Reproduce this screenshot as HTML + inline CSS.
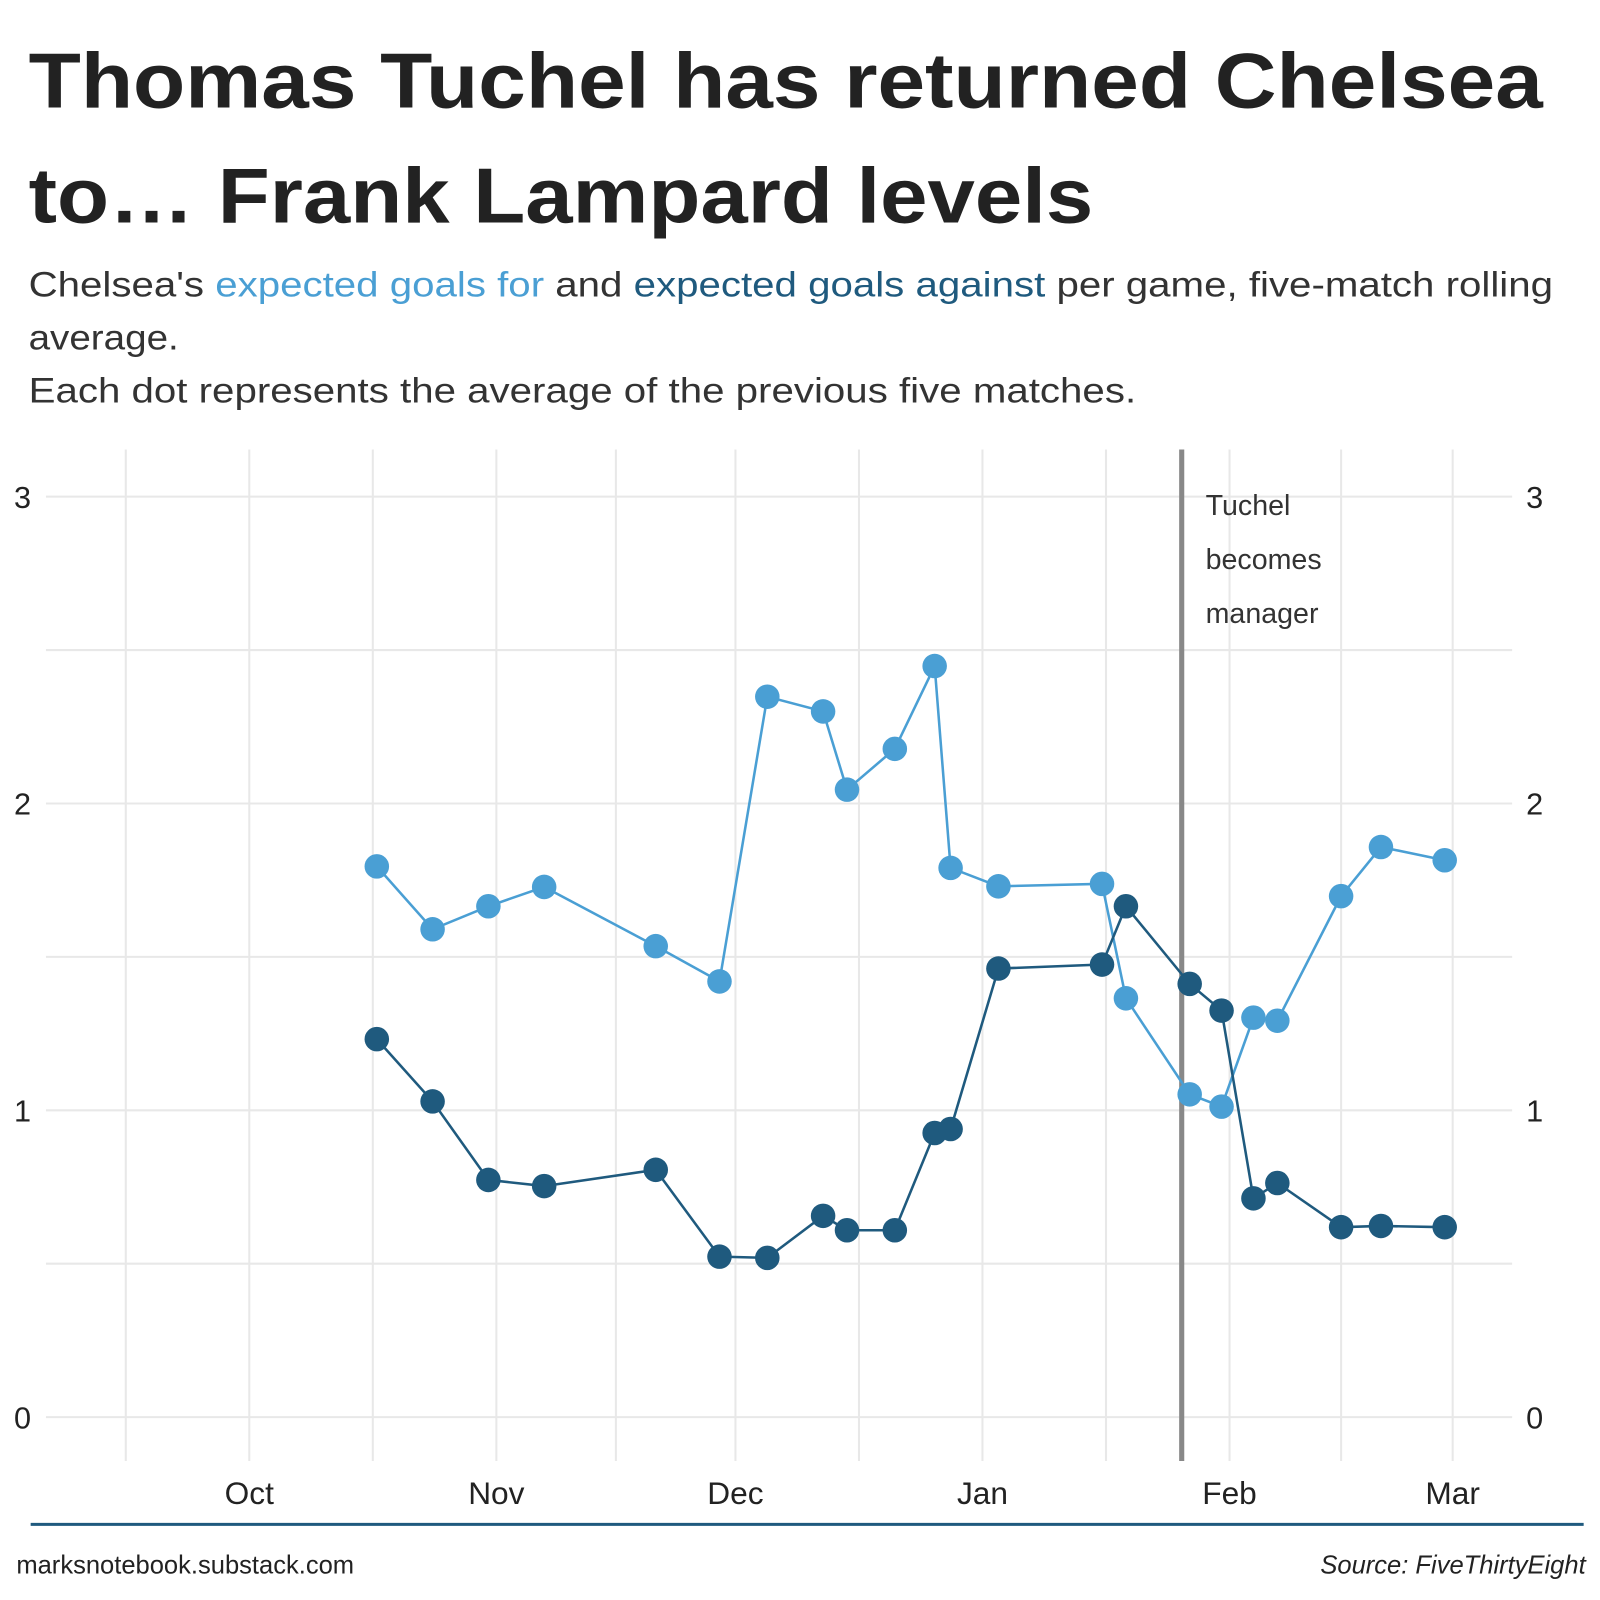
<!DOCTYPE html>
<html><head><meta charset="utf-8"><style>
html,body{margin:0;padding:0;background:#fff}
svg{display:block;font-family:"Liberation Sans",sans-serif}
</style></head><body>
<svg id="chart" width="1600" height="1600" viewBox="0 0 1566 1566" xmlns="http://www.w3.org/2000/svg">
<rect width="1566" height="1566" fill="#fff"/>
<g font-weight="bold" font-size="76" fill="#222">
<text x="28" y="105" textLength="1482" lengthAdjust="spacingAndGlyphs">Thomas Tuchel has returned Chelsea</text>
<text x="28" y="218" textLength="1042" lengthAdjust="spacingAndGlyphs">to… Frank Lampard levels</text>
</g>
<g font-size="34" fill="#333">
<text x="28" y="290" textLength="1492" lengthAdjust="spacingAndGlyphs">Chelsea's <tspan fill="#4a9fd4">expected goals for</tspan> and <tspan fill="#1f5a7e">expected goals against</tspan> per game, five-match rolling</text>
<text x="28" y="342" textLength="147" lengthAdjust="spacingAndGlyphs">average.</text>
<text x="28" y="394" textLength="1084" lengthAdjust="spacingAndGlyphs">Each dot represents the average of the previous five matches.</text>
</g>
<g id="grid"></g>
<g id="axes"></g>
<g id="series"></g>
<line x1="30" y1="1492" x2="1550" y2="1492" stroke="#1f5a7e" stroke-width="3"/>
<text x="16" y="1540" font-size="25" fill="#222">marksnotebook.substack.com</text>
<text x="1552" y="1540" font-size="25" fill="#222" font-style="italic" text-anchor="end">Source: FiveThirtyEight</text>
</svg>
<script>
// days since Oct 1, 2020
const dates = [16,23,30,37,51,59,65,72,75,81,86,88,94,107,110,118,122,126,129,137,142,150];
const xgFor = [1.795,1.59,1.665,1.728,1.535,1.42,2.348,2.30,2.045,2.178,2.448,1.79,1.73,1.738,1.365,1.052,1.012,1.302,1.292,1.698,1.858,1.815];
const xgAgainst = [1.232,1.029,0.773,0.753,0.806,0.523,0.519,0.656,0.609,0.609,0.926,0.939,1.462,1.475,1.665,1.412,1.325,0.713,0.763,0.619,0.623,0.619];
const monthLabels = ["Oct","Nov","Dec","Jan","Feb","Mar"];
const monthDays = [0,31,61,92,123,151];
const minorDays = [-15.5,15.5,46,76.5,107.5,137];
const yTicks = [0,1,2,3];
const yMinor = [0.5,1.5,2.5];
const tuchelDay = 117;

const NS="http://www.w3.org/2000/svg";
const X = d => 244 + d*7.8;
const Y = v => 1387 - v*300.3;
function mk(tag, attrs, parent){const e=document.createElementNS(NS,tag);for(const k in attrs)e.setAttribute(k,attrs[k]);parent.appendChild(e);return e;}
const grid=document.getElementById('grid'), axes=document.getElementById('axes'), series=document.getElementById('series');

yTicks.concat(yMinor).forEach(v=>{
  const l=mk('line',{x1:45,x2:1480,y1:Y(v),y2:Y(v),stroke:'#e8e8e8','stroke-width':2},grid);
  
  
});
monthDays.concat(minorDays).forEach(d=>{
  const l=mk('line',{x1:X(d),x2:X(d),y1:440,y2:1430,stroke:'#e8e8e8','stroke-width':2},grid);
  
  
});
yTicks.forEach(v=>{
  const a=mk('text',{x:22,y:Y(v)+11,'font-size':30,fill:'#222','text-anchor':'middle'},axes);a.textContent=v;
  
  
  const b=mk('text',{x:1502,y:Y(v)+11,'font-size':30,fill:'#222','text-anchor':'middle'},axes);b.textContent=v;
  
  
});
monthLabels.forEach((m,i)=>{
  const t=mk('text',{x:X(monthDays[i]),y:1472,'font-size':31,fill:'#222','text-anchor':'middle'},axes);t.textContent=m;
  
  
});
const vl=mk('line',{x1:X(tuchelDay),x2:X(tuchelDay),y1:440,y2:1430,stroke:'#888','stroke-width':5},axes);


["Tuchel","becomes","manager"].forEach((s,i)=>{
  const t=mk('text',{x:1180,y:504+i*53,'font-size':28,fill:'#333'},axes);t.textContent=s;
  
  
});
function draw(vals,color,name){
  const p=mk('polyline',{points:vals.map((v,i)=>X(dates[i])+','+Y(v)).join(' '),fill:'none',stroke:color,'stroke-width':2.5},series);
  
  
  vals.forEach((v,i)=>{
    const c=mk('circle',{cx:X(dates[i]),cy:Y(v),r:12,fill:color},series);
    
    
  });
}
draw(xgFor,'#4a9fd4','xg-for');
draw(xgAgainst,'#1f5a7e','xg-against');
</script>
</body></html>
